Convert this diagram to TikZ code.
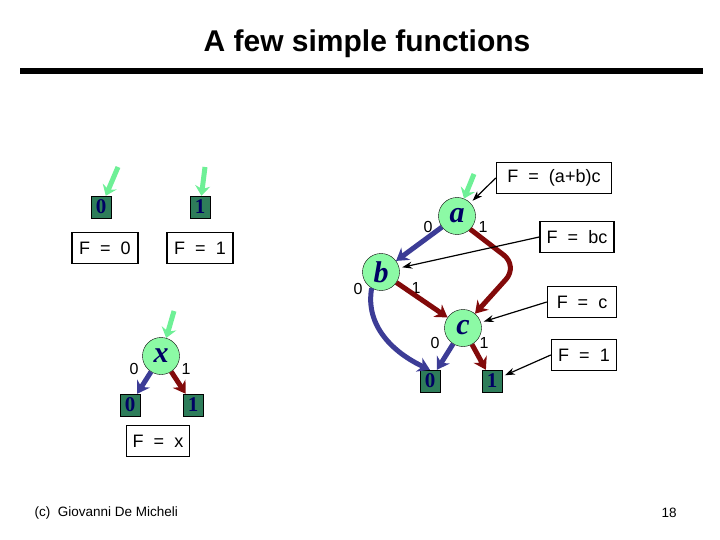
\documentclass[tikz,border=0pt]{standalone}
\usepackage{fontspec}
\setmainfont{Liberation Sans}
\newfontfamily\bddfont{Liberation Serif}
\usepackage{tikz}
\usetikzlibrary{arrows.meta, positioning}
\definecolor{termgreen}{RGB}{46, 125, 90}
\definecolor{nodegreen}{RGB}{140, 250, 165}
\definecolor{entrygreen}{RGB}{110, 240, 150}
\definecolor{edgeblue}{RGB}{60, 60, 150}
\definecolor{edgered}{RGB}{130, 10, 10}
\definecolor{textnavy}{RGB}{0, 0, 100}

\begin{document}
\begin{tikzpicture}[x=1pt, y=-1pt, >=Stealth,
    var/.style={circle, draw=black, fill=nodegreen, minimum size=37pt, inner sep=0pt, text=textnavy, font=\bddfont\bfseries\itshape\fontsize{30}{30}\selectfont},
    leaf/.style={rectangle, draw=black, fill=termgreen, minimum width=20pt, minimum height=22pt, inner sep=0pt, text=textnavy, font=\bddfont\bfseries\fontsize{21}{21}\selectfont},
    fbox/.style={rectangle, draw=black, line width=1.5pt, fill=white, minimum height=31pt, inner xsep=0pt, font=\fontsize{18}{18}\selectfont},
    lbl/.style={font=\fontsize{16}{16}\selectfont},
    lo/.style={line width=5pt, edgeblue, -{Stealth[length=12pt, width=15pt]}},
    hi/.style={line width=5pt, edgered, -{Stealth[length=12pt, width=15pt]}},
    entry/.style={line width=5pt, entrygreen, -{Stealth[length=10pt, width=15pt]}},
    ptr/.style={line width=1.2pt, black, -{Stealth[length=10pt, width=7pt]}, shorten >=3pt}]
    \useasboundingbox (0,0) rectangle (720,540);
    \node[font=\bfseries\fontsize{30}{30}\selectfont] (title) at (367,44) {A few simple functions};
    \draw[line width=6pt] (20,71) -- (703,71);

    \node[leaf] (z) at (101,207) {0};
    \node[leaf] (o) at (200,207) {1};
    \node[fbox, minimum width=66pt] (fz) at (105,248) {F\ \ =\ \ 0};
    \node[fbox, minimum width=66pt] (fo) at (200,248) {F\ \ =\ \ 1};
    \coordinate (ez) at (118,167);
    \coordinate (eo) at (205,167);
    \draw[entry] (ez) -- (z);
    \draw[entry] (eo) -- (o);

    \node[var] (x) at (161,356) {x};
    \node[leaf] (x0) at (130,405) {0};
    \node[leaf] (x1) at (193,405) {1};
    \node[lbl] (xl0) at (134,369) {0};
    \node[lbl] (xl1) at (186,369) {1};
    \node[fbox, minimum width=63pt] (fx) at (158,441) {F\ \ =\ \ x};
    \coordinate (ex) at (174,311);
    \draw[lo] (x) -- (x0);
    \draw[hi] (x) -- (x1);
    \draw[entry] (ex) -- (x);

    \node[var] (a) at (457,216) {a};
    \node[var] (b) at (381,272) {b};
    \node[var] (c) at (463,328) {c};
    \node[leaf] (c0) at (430,381) {0};
    \node[leaf] (c1) at (492,381) {1};
    \node[lbl] (al0) at (428,227) {0};
    \node[lbl] (al1) at (483,227) {1};
    \node[lbl] (bl0) at (358,289) {0};
    \node[lbl] (bl1) at (416,288) {1};
    \node[lbl] (cl0) at (435,343) {0};
    \node[lbl] (cl1) at (484,343) {1};
    \coordinate (bend) at (518,266);
    \coordinate (ea) at (474,174);
    \draw[lo] (a) -- (b);
    \draw[hi, rounded corners=18pt] (a.-45) -- (bend) -- (c.50);
    \draw[hi] (b) -- (c);
    \draw[lo] (b.240) to[out=-100, in=155] (c0.north);
    \draw[lo] (c) -- (c0);
    \draw[hi] (c) -- (c1);
    \draw[entry] (ea) -- (a);

    \node[fbox, minimum width=115pt] (fa) at (554,178) {F\ \ =\ \ (a+b)c};
    \node[fbox, minimum width=74pt] (fb) at (577,237) {F\ \ =\ \ bc};
    \node[fbox, minimum width=69pt] (fc) at (582,302) {F\ \ =\ \ c};
    \node[fbox, minimum width=65pt] (f1) at (584,355) {F\ \ =\ \ 1};
    \draw[ptr] (fa.west) -- (a);
    \draw[ptr] (fb.west) -- (b);
    \draw[ptr] (fc.west) -- (c);
    \draw[ptr] (f1.west) -- (c1);

    \node[font=\fontsize{13.5}{13.5}\selectfont, anchor=west] (auth) at (31,513) {(c)\ \ Giovanni De Micheli};
    \node[font=\fontsize{13.5}{13.5}\selectfont] (page) at (669,513) {18};
\end{tikzpicture}
\end{document}
